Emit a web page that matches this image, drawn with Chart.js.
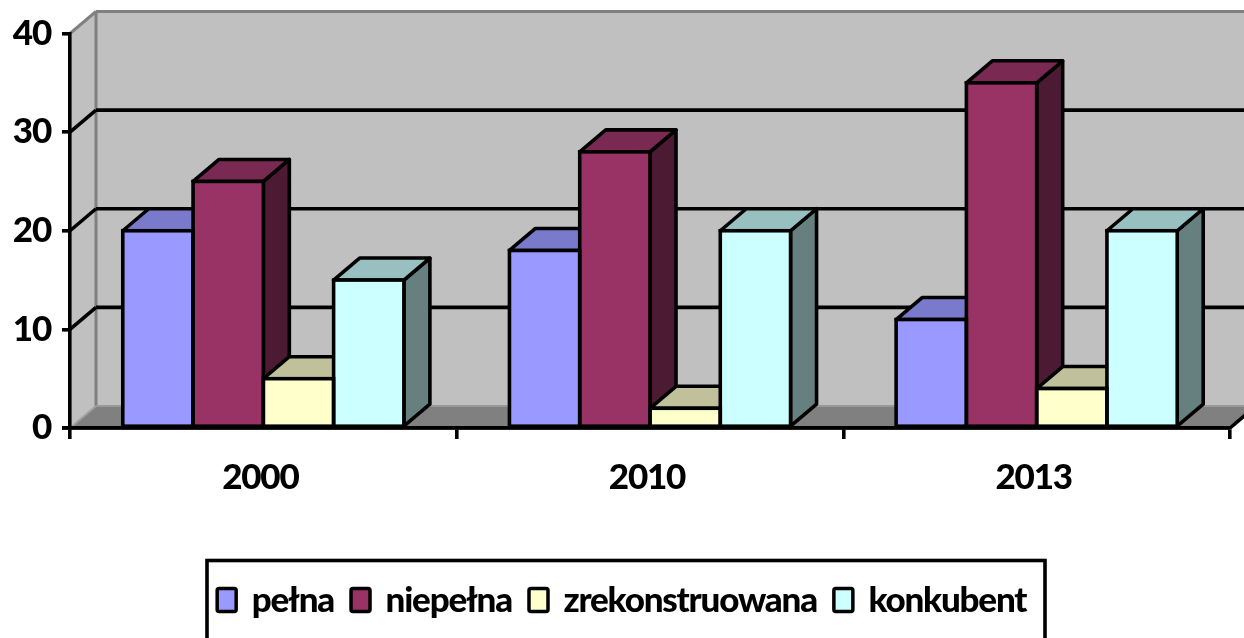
<!DOCTYPE html>
<html><head><meta charset="utf-8">
<style>html,body{margin:0;padding:0;background:#fff;overflow:hidden}canvas{display:block}</style>
<script src="https://cdn.jsdelivr.net/npm/chart.js@4"></script></head>
<body><canvas id="c" width="1244" height="638"></canvas>
<script>
const categories = ['2000','2010','2013'];
const seriesNames = ['pełna','niepełna','zrekonstruowana','konkubent'];
const pelna = [20,18,11];
const niepelna = [25,28,35];
const zrekonstruowana = [5,2,4];
const konkubent = [15,20,20];
const frontColors = ['#9999ff','#993366','#ffffcc','#ccffff'];
const topColors = ['#7a7acc','#7a2952','#c0c09a','#99c0c0'];
const sideColors = ['#4d4d80','#4d1a33','#808066','#668080'];
const DX = 26, DY = 22, LW = 3.6, LEGEND_SHIFT = 7, PATCH_BACK = 9;
const FONT = {family:'Lato', weight:'900', size:35};
const SPACING = '-1.2px';

function poly(ctx, pts, fill, stroke, lw){
  ctx.beginPath();
  pts.forEach((p,i)=> i?ctx.lineTo(p[0],p[1]):ctx.moveTo(p[0],p[1]));
  ctx.closePath();
  if(fill){ctx.fillStyle=fill;ctx.fill();}
  if(stroke){ctx.strokeStyle=stroke;ctx.lineWidth=lw;ctx.lineJoin='round';ctx.stroke();}
}
function line(ctx,x1,y1,x2,y2,c,lw){
  ctx.beginPath();ctx.moveTo(x1,y1);ctx.lineTo(x2,y2);ctx.strokeStyle=c;ctx.lineWidth=lw;ctx.stroke();
}
const box3d = {
  id:'box3d',
  beforeLayout(chart){ chart.ctx.letterSpacing=SPACING; },
  afterLayout(chart){ chart.legend.left+=LEGEND_SHIFT; chart.legend.right+=LEGEND_SHIFT; },
  beforeDraw(chart){
    const {ctx,chartArea:a,scales:{y}} = chart;
    ctx.letterSpacing=SPACING;
    const y0=y.getPixelForValue(0), yT=y.getPixelForValue(40);
    ctx.save();
    poly(ctx,[[a.left+DX,yT-DY],[a.right+DX,yT-DY],[a.right+DX,y0-DY],[a.left+DX,y0-DY]],'#c0c0c0');
    poly(ctx,[[a.left,yT],[a.left+DX,yT-DY],[a.left+DX,y0-DY],[a.left,y0]],'#c0c0c0');
    poly(ctx,[[a.left,y0],[a.right,y0],[a.right+DX,y0-DY],[a.left+DX,y0-DY]],'#808080');
    line(ctx,a.left+DX,yT-DY,a.right+DX,yT-DY,'#808080',3);
    line(ctx,a.left+DX,yT-DY,a.left+DX,y0-DY,'#808080',3);
    line(ctx,a.left,yT,a.left+DX,yT-DY,'#808080',3);
    line(ctx,a.left,y0,a.left+DX,y0-DY,'#a0a0a0',2);
    line(ctx,a.left+DX,y0-DY,a.right+DX,y0-DY,'#999999',2);
    [10,20,30].forEach(v=>{
      const p=y.getPixelForValue(v);
      line(ctx,a.left,p,a.left+DX,p-DY,'#000',LW);
      line(ctx,a.left+DX,p-DY,a.right+DX,p-DY,'#000',LW);
    });
    line(ctx,a.right,y0,a.right+DX,y0-DY,'#000',LW);
    ctx.restore();
  },
  beforeDatasetsDraw(chart){
    const ctx=chart.ctx;
    ctx.save();
    chart.data.datasets.forEach((ds,i)=>{
      chart.getDatasetMeta(i).data.forEach(b=>{
        const l=b.x-b.width/2,r=b.x+b.width/2,t=b.y,bt=b.base;
        poly(ctx,[[r,t],[r+DX,t-DY],[r+DX,bt-DY],[r,bt]],sideColors[i],'#000',LW);
        poly(ctx,[[l,t],[r,t],[r+DX,t-DY],[l+DX,t-DY]],topColors[i],'#000',LW);
      });
    });
    ctx.restore();
  },
  afterDatasetsDraw(chart){
    const {ctx,chartArea:a,scales:{y}}=chart;
    ctx.save();
    chart.data.datasets.forEach((ds,i)=>{
      chart.getDatasetMeta(i).data.forEach(b=>{
        const l=b.x-b.width/2,r=b.x+b.width/2;
        ctx.strokeStyle='#000';ctx.lineWidth=LW;
        ctx.strokeRect(l,b.y,r-l,b.base-b.y);
      });
    });
    const y0=y.getPixelForValue(0);
    line(ctx,a.left-8,y0,a.right,y0,'#000',LW);
    ctx.restore();
  },
  afterDraw(chart){
    const ctx=chart.ctx;
    ctx.save();
    ctx.strokeStyle='#000';ctx.lineWidth=LW;
    ctx.strokeRect(207,560.5,838,100);
    chart.legend.legendHitBoxes.forEach((hb,i)=>{
      const cy=hb.top+hb.height/2;
      ctx.beginPath();
      ctx.roundRect(hb.left+LEGEND_SHIFT+1.5-PATCH_BACK,cy-12,19,23,2);
      ctx.fillStyle=frontColors[i];ctx.fill();
      ctx.lineWidth=3.5;ctx.strokeStyle='#000';ctx.stroke();
    });
    ctx.restore();
  }
};
const seriesValues=[pelna,niepelna,zrekonstruowana,konkubent];
new Chart(document.getElementById('c'),{
  type:'bar',
  data:{labels:categories,datasets:seriesNames.map((n,i)=>({
    label:n,data:seriesValues[i],backgroundColor:frontColors[i],borderWidth:0
  }))},
  plugins:[box3d],
  options:{
    responsive:false,animation:false,
    layout:{padding:{top:33.5,right:14,bottom:10,left:0}},
    datasets:{bar:{barPercentage:1,categoryPercentage:0.727}},
    plugins:{
      tooltip:{enabled:false},title:{display:false},
      legend:{position:'bottom',labels:{
        color:'#000',font:FONT,boxWidth:16.5,boxHeight:20,padding:17.5,
        generateLabels(chart){
          return chart.data.datasets.map((d,i)=>({text:d.label,fillStyle:'rgba(0,0,0,0)',strokeStyle:'rgba(0,0,0,0)',lineWidth:0,datasetIndex:i,fontColor:'#000'}));
        }
      }}
    },
    scales:{
      x:{
        grid:{drawOnChartArea:false,color:'#000',lineWidth:LW,tickLength:11,tickColor:'#000'},
        border:{color:'#000',width:LW},
        ticks:{color:'#000',font:FONT,padding:18,maxRotation:0,labelOffset:-3},
        afterFit(s){s.height=137.5;}
      },
      y:{
        min:0,max:40,
        grid:{drawOnChartArea:false,color:'#000',lineWidth:LW,tickLength:8,tickColor:'#000'},
        border:{color:'#000',width:LW},
        ticks:{color:'#000',font:FONT,stepSize:10,padding:11},
        afterFit(s){s.width=70;}
      }
    }
  }
});
</script></body></html>
